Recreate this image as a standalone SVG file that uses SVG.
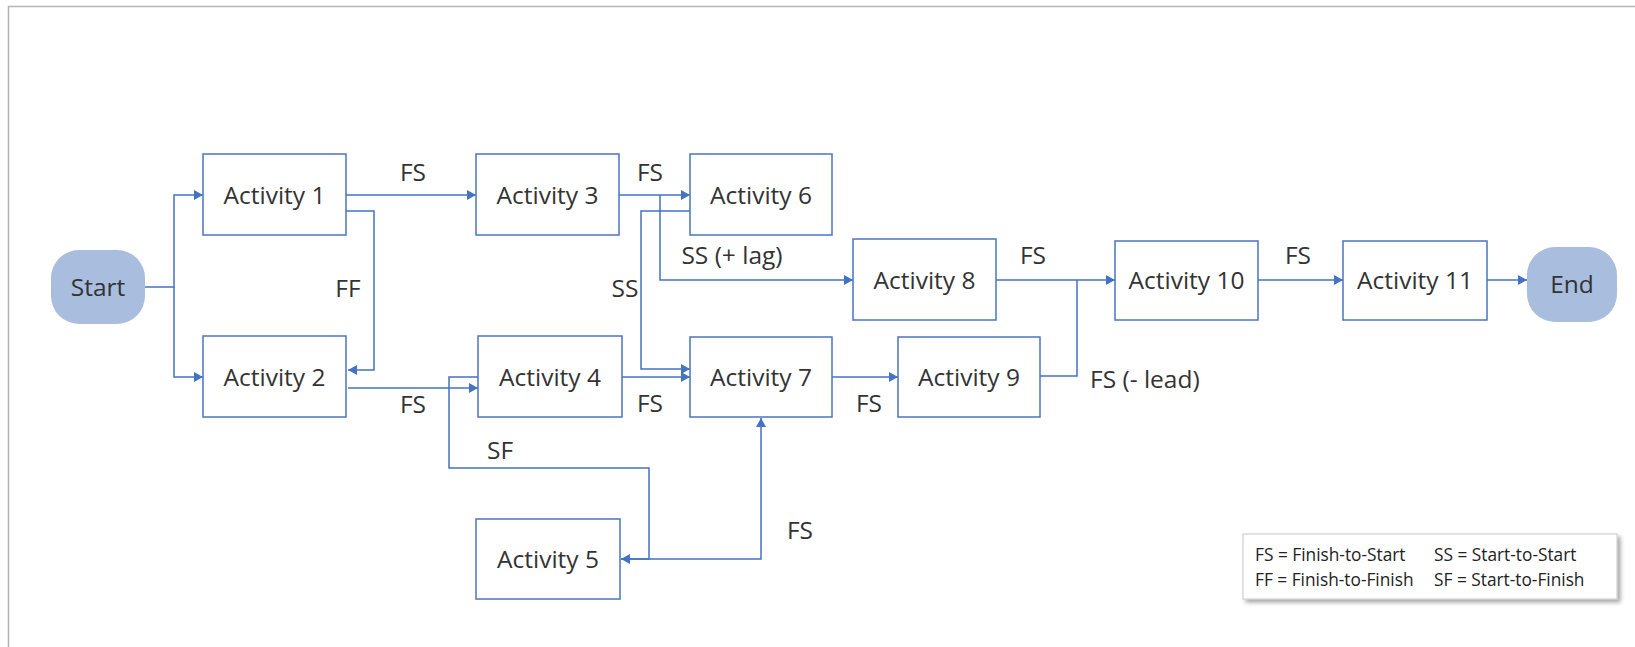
<svg xmlns="http://www.w3.org/2000/svg" width="1635" height="647" viewBox="0 0 1635 647">
  <style>
    .frame { stroke: #b4b4b4; stroke-width: 1.5; fill: none; }
    .box { fill: #ffffff; stroke: #4a74c4; stroke-width: 1.5; }
    .term { fill: #a9bddf; stroke: none; }
    .lbl { font-family: "Open Sans", "Noto Sans", "DejaVu Sans", sans-serif; font-size: 24.5px; fill: #333333; }
    .mid { text-anchor: middle; }
    .wire { fill: none; stroke: #4472c4; stroke-width: 1.5; }
    .arr { marker-end: url(#tip); }
    .key { font-family: "Open Sans", "Noto Sans", "DejaVu Sans", sans-serif; font-size: 17.3px; fill: #222222; }
  </style>
  <defs>
    <marker id="tip" markerUnits="userSpaceOnUse" markerWidth="9" markerHeight="10" refX="9" refY="5" orient="auto">
      <path d="M0,0 L9,5 L0,10 z" fill="#4472c4"/>
    </marker>
    <filter id="shade" x="-5%" y="-20%" width="115%" height="160%">
      <feDropShadow dx="3" dy="3" stdDeviation="2" flood-color="#000000" flood-opacity="0.35"/>
    </filter>
  </defs>

  <rect width="1635" height="647" fill="#ffffff"/>
  <path class="frame" d="M8.5,647 V6.5 H1635"/>

  <!-- connectors -->
  <g id="connectors">
    <path class="wire arr" d="M145,287 H174 V195 H203"/>
    <path class="wire arr" d="M174,287 V377 H203"/>
    <path class="wire arr" d="M346,195 H476"/>
    <path class="wire arr" d="M346,211 H374 V370 H348"/>
    <path class="wire arr" d="M348,388 H478"/>
    <path class="wire arr" d="M478,377 H449 V468 H649 V559 H621"/>
    <path class="wire arr" d="M621,559 H761 V418"/>
    <path class="wire arr" d="M619,195 H690"/>
    <path class="wire arr" d="M660,195 V280 H853"/>
    <path class="wire arr" d="M690,211 H641 V369 H690"/>
    <path class="wire arr" d="M622,377 H690"/>
    <path class="wire arr" d="M832,377 H898"/>
    <path class="wire arr" d="M996,280 H1115"/>
    <path class="wire" d="M1040,376 H1077 V280"/>
    <path class="wire arr" d="M1258,280 H1343"/>
    <path class="wire arr" d="M1487,280 H1527"/>

    <text class="lbl mid" x="413" y="181">FS</text>
    <text class="lbl mid" x="348" y="297">FF</text>
    <text class="lbl mid" x="413" y="413">FS</text>
    <text class="lbl mid" x="500" y="459">SF</text>
    <text class="lbl mid" x="800" y="539">FS</text>
    <text class="lbl mid" x="650" y="181">FS</text>
    <text class="lbl mid" x="732" y="264">SS (+ lag)</text>
    <text class="lbl mid" x="625" y="297">SS</text>
    <text class="lbl mid" x="650" y="412">FS</text>
    <text class="lbl mid" x="869" y="412">FS</text>
    <text class="lbl mid" x="1033" y="264">FS</text>
    <text class="lbl" x="1090" y="388">FS (- lead)</text>
    <text class="lbl mid" x="1298" y="264">FS</text>
  </g>

  <!-- nodes -->
  <g id="start">
    <rect class="term" x="51" y="250" width="94" height="74" rx="28"/>
    <text class="lbl mid" x="98" y="296">Start</text>
  </g>
  <g id="activity1">
    <rect class="box" x="203" y="154" width="143" height="81"/>
    <text class="lbl mid" x="274.5" y="203.5">Activity 1</text>
  </g>
  <g id="activity2">
    <rect class="box" x="203" y="336" width="143" height="81"/>
    <text class="lbl mid" x="274.5" y="385.5">Activity 2</text>
  </g>
  <g id="activity3">
    <rect class="box" x="476" y="154" width="143" height="81"/>
    <text class="lbl mid" x="547.5" y="203.5">Activity 3</text>
  </g>
  <g id="activity4">
    <rect class="box" x="478" y="336" width="144" height="81"/>
    <text class="lbl mid" x="550" y="385.5">Activity 4</text>
  </g>
  <g id="activity5">
    <rect class="box" x="476" y="519" width="144" height="80"/>
    <text class="lbl mid" x="548" y="567.5">Activity 5</text>
  </g>
  <g id="activity6">
    <rect class="box" x="690" y="154" width="142" height="81"/>
    <text class="lbl mid" x="761" y="203.5">Activity 6</text>
  </g>
  <g id="activity7">
    <rect class="box" x="690" y="337" width="142" height="80"/>
    <text class="lbl mid" x="761" y="385.5">Activity 7</text>
  </g>
  <g id="activity8">
    <rect class="box" x="853" y="239" width="143" height="81"/>
    <text class="lbl mid" x="924.5" y="288.5">Activity 8</text>
  </g>
  <g id="activity9">
    <rect class="box" x="898" y="337" width="142" height="80"/>
    <text class="lbl mid" x="969" y="385.5">Activity 9</text>
  </g>
  <g id="activity10">
    <rect class="box" x="1115" y="241" width="143" height="79"/>
    <text class="lbl mid" x="1186.5" y="289">Activity 10</text>
  </g>
  <g id="activity11">
    <rect class="box" x="1343" y="241" width="144" height="79"/>
    <text class="lbl mid" x="1415" y="289">Activity 11</text>
  </g>
  <g id="end">
    <rect class="term" x="1527" y="247" width="90" height="75" rx="28"/>
    <text class="lbl mid" x="1572" y="293">End</text>
  </g>

  <!-- legend -->
  <g id="legend">
    <rect x="1243" y="534" width="374" height="65" fill="#ffffff" stroke="#c8c8c8" stroke-width="1" filter="url(#shade)"/>
    <text class="key" x="1255" y="561">FS = Finish-to-Start</text>
    <text class="key" x="1434" y="561">SS = Start-to-Start</text>
    <text class="key" x="1255" y="586">FF = Finish-to-Finish</text>
    <text class="key" x="1434" y="586">SF = Start-to-Finish</text>
  </g>
</svg>
